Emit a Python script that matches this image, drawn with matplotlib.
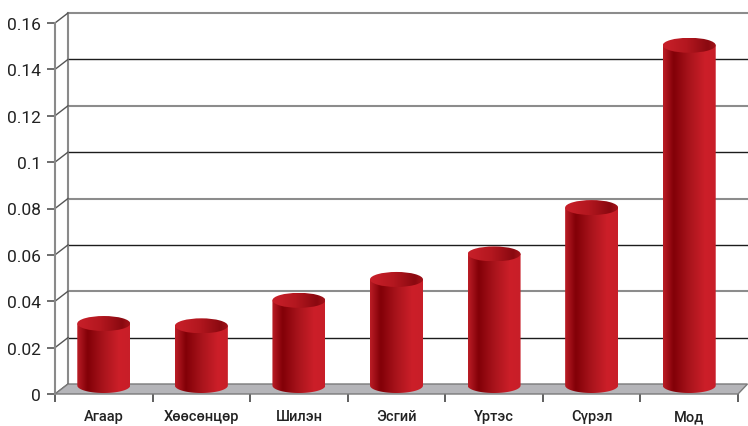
import numpy as np
import matplotlib
matplotlib.use("Agg")
import matplotlib.pyplot as plt
from matplotlib.path import Path
from matplotlib.patches import PathPatch, Ellipse, Polygon
from matplotlib.colors import LinearSegmentedColormap

plt.rcParams["font.family"] = ["Roboto", "DejaVu Sans"]

categories = ["Агаар", "Хөөсөнцөр", "Шилэн", "Эсгий", "Үртэс", "Сүрэл", "Мод"]
values = [0.030, 0.029, 0.040, 0.049, 0.060, 0.080, 0.150]
yticks = [0, 0.02, 0.04, 0.06, 0.08, 0.1, 0.12, 0.14, 0.16]
ytick_labels = ["0", "0.02", "0.04", "0.06", "0.08", "0.1", "0.12", "0.14", "0.16"]

W, H = 748, 427
fig = plt.figure(figsize=(W / 100, H / 100), dpi=100)
L, R, B, T = 55, 738, 395, 24
ax = fig.add_axes([L / W, (H - B) / H, (R - L) / W, (B - T) / H])
n = len(categories)
ax.set_xlim(0, n)
ax.set_ylim(0, 0.16)

pxx = (R - L) / n          # px per category
pxy = (B - T) / 0.16       # px per unit
DXL = 13 / pxx
DXR = 9.5 / pxx
DY = 10 / pxy

for s in ["top", "right", "bottom"]:
    ax.spines[s].set_visible(False)
ax.spines["left"].set_color("#8a8a8a")
ax.spines["left"].set_linewidth(1.5)

# y ticks
ax.set_yticks(yticks)
ax.set_yticklabels(ytick_labels)
ax.tick_params(axis="y", length=6, width=1.2, color="#555555", pad=4,
               labelsize=12.5, labelcolor="#222222")
# x ticks: marks at boundaries, labels at centres
ax.set_xticks(np.arange(n + 1))
ax.set_xticklabels([])
ax.set_xticks(np.arange(n) + 0.5, minor=True)
ax.set_xticklabels(categories, minor=True)
ax.tick_params(axis="x", which="major", length=6, width=1.2, color="#444444")
ax.tick_params(axis="x", which="minor", length=0, pad=11, labelsize=10.5,
               labelcolor="#222222")
for lab in ax.get_xticklabels(minor=True):
    lab.set_fontweight("medium")

# back wall gridlines (alternating grey / black)
for k, y in enumerate(yticks[1:], start=1):
    col = "#1c1c1c" if k % 2 == 1 else "#8c8c8c"
    lw = 1.0 if k % 2 == 1 else 1.5
    ax.plot([DXL, n + DXR], [y + DY, y + DY], color=col, lw=lw, zorder=1,
            clip_on=False)
# left wall: back edge and diagonals
ax.plot([DXL, DXL], [DY, 0.16 + DY], color="#8a8a8a", lw=1.5, zorder=1,
        clip_on=False)
for y in yticks:
    ax.plot([0, DXL], [y, y + DY], color="#555555", lw=1.0, zorder=1,
            clip_on=False)

# floor
floor = Polygon([(0, 0), (n, 0), (n + DXR, DY), (DXL, DY)], closed=True,
                facecolor="#b5b5b9", edgecolor="#7a7a7a", lw=1.0, zorder=2,
                clip_on=False)
ax.add_patch(floor)

# cylinders
body_cmap = LinearSegmentedColormap.from_list(
    "body", [(0.0, "#bb1d26"), (0.2, "#820007"), (0.5, "#a9141c"),
             (0.8, "#cc1f29"), (1.0, "#c81e28")])
top_cmap = LinearSegmentedColormap.from_list(
    "top", [(0.0, "#c9202a"), (0.45, "#b3171f"), (0.85, "#8a0910"),
            (1.0, "#a3131a")])
grad = np.linspace(0, 1, 256).reshape(1, -1)

rx = 26.5 / pxx
ry = 7.5 / pxy
base = 8.5 / pxy
for i, v in enumerate(values):
    cx = i + 0.5
    x0, x1 = cx - rx, cx + rx
    yt = v + 0.0004
    yb = base
    th = np.linspace(np.pi, 2 * np.pi, 60)
    verts = [(x0, yt), (x0, yb)]
    verts += list(zip(cx + rx * np.cos(th), yb + ry * np.sin(th)))
    verts += [(x1, yt), (x0, yt)]
    codes = [Path.MOVETO] + [Path.LINETO] * (len(verts) - 2) + [Path.CLOSEPOLY]
    body = PathPatch(Path(verts, codes), facecolor="none", edgecolor="none",
                     transform=ax.transData)
    ax.add_patch(body)
    im = ax.imshow(grad, cmap=body_cmap, extent=[x0, x1, yb - ry, yt],
                   aspect="auto", zorder=3, interpolation="bicubic")
    im.set_clip_path(body)
    top = Ellipse((cx, yt), 2 * rx, 2 * ry, facecolor="none",
                  edgecolor="none", transform=ax.transData)
    ax.add_patch(top)
    im2 = ax.imshow(grad, cmap=top_cmap, extent=[x0, x1, yt - ry, yt + ry],
                    aspect="auto", zorder=4, interpolation="bicubic")
    im2.set_clip_path(top)

ax.set_xlim(0, n)
ax.set_ylim(0, 0.16)
ax.set_aspect("auto")
ax.patch.set_alpha(0)

fig.savefig("out.png", dpi=100)
